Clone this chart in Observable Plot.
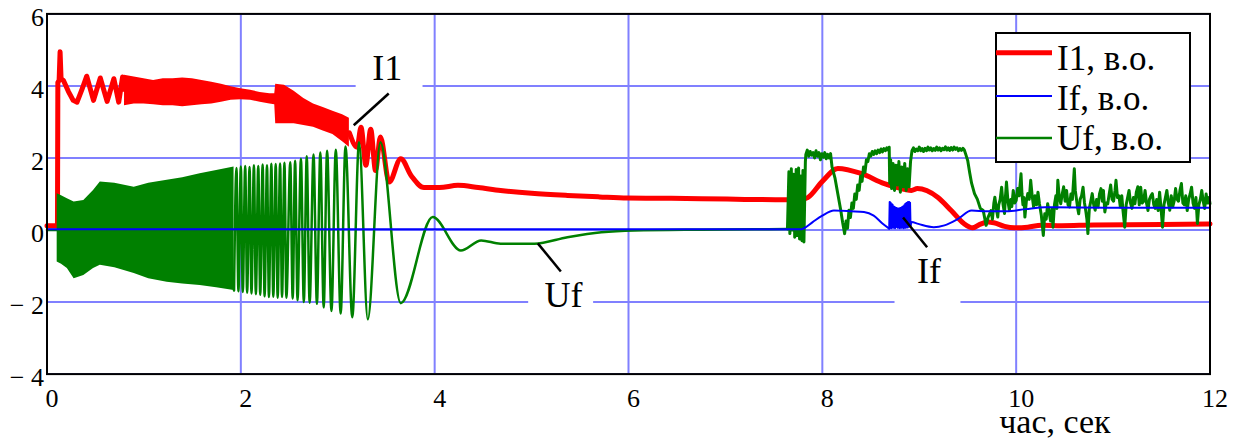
<!DOCTYPE html>
<html><head><meta charset="utf-8">
<script src="https://cdn.jsdelivr.net/npm/d3@7"></script>
<script src="https://cdn.jsdelivr.net/npm/@observablehq/plot@0.6"></script>
<style>
body{margin:0;background:#fff;}
#wrap{position:relative;width:1237px;height:439px;}
#legend{position:absolute;left:995px;top:32px;}
</style>
</head><body><div id="wrap"></div>
<script>
// ---- ticks & labels ----
const xTicks = [0, 2, 4, 6, 8, 10, 12];
const yTicks = [6, 4, 2, 0, -2, -4];
const yTickLabels = ["6", "4", "2", "0", "\u2212 2", "\u2212 4"];
const xTitle = "час, сек";
const seriesNames = ["I1, в.о.", "If, в.о.", "Uf, в.о."];
const seriesColors = ["#ff0000", "#0000ff", "#008000"];

// ---- I1 (red) ----
const i1Start = [[0,0.12],[0.108,0.12],[0.112,4.10],[0.125,4.15],[0.135,4.95],[0.145,4.20],[0.17,4.15],[0.22,3.85],[0.27,3.60],[0.31,3.55],[0.36,3.90],[0.41,4.27],[0.48,3.60],[0.55,4.22],[0.62,3.57],[0.69,4.20],[0.74,3.55],[0.78,4.25],[0.80,3.90]];
const i1BandT  = [0.80,0.90,1.00,1.10,1.20,1.30,1.40,1.50,1.60,1.70,1.80,1.90,2.00,2.10,2.20,2.30,2.35,2.36,2.45,2.55,2.65,2.75,2.85,2.95,3.05,3.12];
const i1BandLo = [3.45,3.50,3.50,3.48,3.45,3.45,3.42,3.45,3.48,3.50,3.55,3.60,3.62,3.60,3.55,3.50,3.48,2.95,2.95,2.95,2.90,2.85,2.75,2.65,2.45,2.30];
const i1BandHi = [4.30,4.25,4.20,4.15,4.20,4.20,4.22,4.20,4.15,4.10,4.05,3.98,3.92,3.88,3.82,3.78,3.78,4.05,4.02,3.85,3.65,3.50,3.40,3.30,3.20,3.10];
const i1End = [[3.12,2.70],[3.20,2.30],[3.24,2.85],[3.29,1.80],[3.34,2.80],[3.39,1.65],[3.44,2.58],[3.53,1.33],[3.65,1.98],[3.76,1.50],[3.89,1.18],[4.05,1.18],[4.24,1.24],[4.45,1.18],[4.68,1.10],[5.00,1.02],[5.37,0.96],[5.70,0.92],[5.99,0.89],[6.40,0.88],[6.75,0.87],[7.20,0.85],[7.60,0.84],[7.78,0.85],[7.85,0.90],[8.00,1.35],[8.16,1.71],[8.40,1.57],[8.64,1.29],[8.75,1.20],[8.92,1.10],[8.98,1.15],[9.19,0.91],[9.33,0.54],[9.46,0.18],[9.55,0.06],[9.62,0.15],[9.71,0.22],[9.77,0.20],[9.88,0.10],[9.98,0.06],[10.12,0.08],[10.26,0.13],[10.47,0.12],[10.80,0.14],[11.50,0.15],[12.00,0.17]];

// ---- If (blue) ----
const ifBefore = [[0,0.02],[7.78,0.02],[7.81,0.05],[7.90,0.22],[8.00,0.40],[8.12,0.54],[8.30,0.52],[8.43,0.50],[8.53,0.40],[8.62,0.18],[8.69,0.04]];
const ifBurst = [[8.690,0.04],[8.695,0.78],[8.700,0.06],[8.705,0.76],[8.710,0.05],[8.715,0.72],[8.720,0.08],[8.725,0.70],[8.730,0.06],[8.735,0.66],[8.740,0.09],[8.745,0.64],[8.750,0.05],[8.755,0.62],[8.760,0.08],[8.765,0.61],[8.770,0.10],[8.775,0.60],[8.780,0.06],[8.785,0.60],[8.790,0.09],[8.795,0.60],[8.800,0.05],[8.805,0.61],[8.810,0.08],[8.815,0.62],[8.820,0.06],[8.825,0.64],[8.830,0.10],[8.835,0.66],[8.840,0.05],[8.845,0.69],[8.850,0.08],[8.855,0.72],[8.860,0.06],[8.865,0.74],[8.870,0.10],[8.875,0.76],[8.880,0.07],[8.885,0.78],[8.890,0.09],[8.895,0.78],[8.900,0.10],[8.905,0.76],[8.910,0.12]];
const ifAfter = [[8.91,0.12],[8.92,0.22],[8.99,0.17],[9.15,0.08],[9.26,0.13],[9.40,0.31],[9.54,0.54],[9.70,0.52],[9.90,0.52],[10.10,0.58],[10.30,0.63],[11.00,0.62],[12.00,0.62]];

// ---- Uf (green) ----
const ufStart = [[0,0.0],[0.105,0.0]];
const ufBandT  = [0.105,0.15,0.21,0.28,0.38,0.48,0.55,0.70,0.90,1.05,1.24,1.40,1.58,1.75,1.93];
const ufBandHi = [1.01,0.95,0.87,0.78,0.82,1.10,1.33,1.30,1.19,1.30,1.38,1.45,1.56,1.65,1.75];
const ufBandLo = [-0.89,-0.95,-1.07,-1.35,-1.26,-1.07,-0.98,-1.05,-1.21,-1.35,-1.45,-1.50,-1.54,-1.60,-1.68];
const ufSwing = [[1.93,-1.68],[1.955,1.72],[1.975,-1.70],[2.0,1.76],[2.02,-1.72],[2.045,1.78],[2.065,-1.74],[2.09,1.75],[2.11,-1.76],[2.135,1.80],[2.155,-1.78],[2.18,1.78],[2.20,-1.80],[2.225,1.82],[2.245,-1.84],[2.27,1.80],[2.29,-1.86],[2.315,1.84],[2.335,-1.85],[2.36,1.83],[2.38,-1.88],[2.405,1.85],[2.425,-1.86],[2.45,1.87],[2.47,-1.88],[2.51,1.88],[2.535,-1.90],[2.56,1.92],[2.585,-1.95],[2.62,1.98],[2.65,-2.00],[2.68,2.05],[2.71,-2.02],[2.75,2.10],[2.785,-2.05],[2.82,2.15],[2.855,-2.15],[2.89,2.20],[2.935,-2.25],[2.98,2.23],[3.03,-2.32],[3.08,2.32],[3.15,-2.42],[3.22,2.44],[3.31,-2.48],[3.44,2.44],[3.65,-2.03],[3.98,0.36],[4.27,-0.57],[4.48,-0.29],[4.68,-0.38],[5.03,-0.38],[5.37,-0.20],[5.72,-0.06],[6.06,-0.01],[6.75,0.01],[7.30,0.02],[7.64,0.03]];
const ufNoisy = [[7.64,0.03],[7.655,1.62],[7.665,-0.10],[7.675,1.2],[7.68,1.70],[7.69,0.00],[7.70,0.9],[7.705,1.55],[7.715,-0.20],[7.725,1.1],[7.73,1.68],[7.74,-0.15],[7.75,0.8],[7.755,1.72],[7.765,-0.25],[7.775,1.3],[7.78,1.50],[7.79,-0.30],[7.80,1.65],[7.81,-0.33],[7.825,1.9],[7.83,2.10],[7.845,2.22],[7.86,2.05],[7.875,2.18],[7.89,2.08],[7.905,2.15],[7.92,2.0],[7.935,2.2],[7.95,2.05],[7.965,2.15],[7.98,1.95],[7.995,2.12],[8.01,2.02],[8.025,2.15],[8.04,1.98],[8.055,2.1],[8.07,2.0],[8.085,2.12],[8.10,1.75],[8.13,1.45],[8.16,1.0],[8.19,0.55],[8.21,0.2],[8.23,-0.10],[8.245,0.25],[8.26,0.05],[8.275,0.55],[8.29,0.35],[8.305,0.75],[8.32,0.6],[8.335,1.0],[8.35,0.85],[8.365,1.25],[8.38,1.1],[8.395,1.5],[8.41,1.35],[8.425,1.75],[8.44,1.6],[8.455,1.95],[8.47,1.9],[8.485,2.12],[8.50,2.05],[8.515,2.18],[8.53,2.1],[8.545,2.2],[8.56,2.12],[8.575,2.22],[8.59,2.15],[8.605,2.25],[8.62,2.17],[8.635,2.26],[8.65,2.2],[8.665,2.28],[8.68,2.22],[8.69,2.3],
 [8.695,1.30],[8.705,1.95],[8.715,1.15],[8.73,1.85],[8.745,1.10],[8.76,1.80],[8.775,1.25],[8.79,1.90],[8.805,1.05],[8.82,1.75],[8.835,1.20],[8.85,1.85],[8.865,1.10],[8.88,1.70],[8.895,1.20],[8.91,1.90],
 [8.925,2.20],[8.94,2.28],[8.955,2.18],[8.97,2.25],[8.985,2.2],[9.0,2.3],[9.015,2.2],[9.03,2.26],[9.045,2.18],[9.06,2.27],[9.075,2.2],[9.09,2.3],[9.105,2.22],[9.12,2.28],[9.135,2.2],[9.15,2.26],[9.165,2.21],[9.18,2.3],[9.195,2.22],[9.21,2.28],[9.225,2.2],[9.24,2.27],[9.255,2.23],[9.27,2.31],[9.285,2.22],[9.30,2.28],[9.315,2.21],[9.33,2.29],[9.345,2.22],[9.36,2.3],[9.375,2.24],[9.39,2.28],[9.405,2.2],[9.42,2.26],[9.435,2.21],[9.45,2.27],[9.465,2.22],[9.48,2.1],[9.50,1.93],[9.52,1.6],[9.54,1.3],[9.57,1.01],[9.60,0.85],[9.63,0.6],[9.66,0.54],[9.69,0.13],
 [9.71,0.35],[9.74,0.54],[9.755,0.3],[9.77,0.75],[9.78,0.91],[9.795,0.6],[9.81,0.36],[9.82,0.7],[9.835,0.85],[9.85,1.19],[9.865,0.7],[9.88,0.46],[9.89,0.95],[9.90,1.33],[9.915,0.8],[9.93,0.54],[9.945,0.85],[9.955,0.65],[9.97,1.10],[9.985,0.75],[10.0,0.82],[10.015,1.15],[10.03,0.95],[10.05,1.56],[10.06,1.0],[10.07,0.70],[10.08,0.9],[10.09,0.36],[10.105,0.8],[10.12,1.01],[10.135,0.85],[10.15,1.38],[10.165,0.95],[10.18,0.64],[10.195,0.95],[10.21,0.7],[10.225,1.05],[10.24,0.73],[10.26,0.4],[10.28,-0.15],[10.295,0.45],[10.31,0.30],[10.325,0.73],[10.34,0.50],[10.355,0.25],[10.37,0.6],[10.38,0.08],[10.395,0.7],[10.41,0.95],[10.42,0.6],[10.43,1.38],[10.445,0.9],[10.46,0.73],[10.475,1.0],[10.49,1.2],[10.505,0.8],[10.52,1.10],[10.535,0.7],[10.55,0.64],[10.565,1.0],[10.58,0.85],[10.60,1.70],[10.61,1.1],[10.62,0.90],[10.635,0.6],[10.645,0.45],[10.66,0.85],[10.675,0.95],[10.69,1.19],[10.705,0.75],[10.72,0.50],[10.73,0.3],[10.74,-0.10],[10.755,0.6],[10.77,0.80],[10.785,1.01],[10.80,0.7],[10.815,0.55],[10.83,0.85],[10.845,0.64],[10.86,1.0],[10.875,1.15],[10.89,0.8],[10.90,1.10],[10.915,0.5],[10.93,0.75],[10.945,0.73],[10.96,1.0],[10.975,1.25],[10.99,0.85],[11.005,0.80],[11.02,1.1],[11.03,1.38],[11.045,0.9],[11.06,0.95],[11.075,0.64],[11.09,0.95],[11.10,0.6],[11.12,0.08],[11.135,0.7],[11.15,0.90],[11.165,1.10],[11.18,0.75],[11.195,0.60],[11.21,0.9],[11.225,0.73],[11.24,1.05],[11.255,1.20],[11.27,0.70],[11.285,1.19],[11.30,0.75],[11.315,0.80],[11.33,1.10],[11.345,0.75],[11.36,0.54],[11.375,0.85],[11.39,0.95],[11.405,1.01],[11.42,0.7],[11.435,0.60],[11.45,0.85],[11.465,0.54],[11.48,1.05],[11.495,0.6],[11.51,0.08],[11.525,0.7],[11.54,0.90],[11.555,1.10],[11.57,0.75],[11.585,0.55],[11.60,0.95],[11.615,0.64],[11.63,0.8],[11.645,1.15],[11.66,0.85],[11.675,0.80],[11.69,1.1],[11.705,1.29],[11.72,0.75],[11.735,0.70],[11.75,0.95],[11.765,0.54],[11.78,0.85],[11.795,1.00],[11.81,1.19],[11.825,0.75],[11.84,0.60],[11.855,0.9],[11.87,0.18],[11.885,0.7],[11.90,0.85],[11.915,1.10],[11.93,0.8],[11.945,0.60],[11.96,1.0],[11.975,0.75],[11.99,0.9],[12.0,0.73]];

// ---- annotations ----
const labelTexts = ["I1", "Uf", "If"];
const labelT = [3.51, 5.33, 9.10];
const labelV = [4.16, -2.15, -1.48];
const leaderT1 = [3.526, 5.064, 8.833];
const leaderV1 = [3.79, -0.37, 0.35];
const leaderT2 = [3.165, 5.302, 9.081];
const leaderV2 = [2.91, -1.15, -0.48];
const maskT1 = [3.19, 4.97, 8.75];
const maskT2 = [3.88, 5.64, 9.43];
const maskV1 = [3.60, -2.50, -2.30];
const maskV2 = [4.80, -1.10, -0.90];

// ---- build tables ----
const pairs = (P) => P.map(([t, v]) => ({t, v}));
const band = (T, L, H) => T.map((t, i) => ({t, lo: L[i], hi: H[i]}));
const labels = labelTexts.map((s, i) => ({s, t: labelT[i], v: labelV[i]}));
const leaders = leaderT1.map((t, i) => ({t1: t, v1: leaderV1[i], t2: leaderT2[i], v2: leaderV2[i]}));
const masks = maskT1.map((t, i) => ({t1: t, t2: maskT2[i], v1: maskV1[i], v2: maskV2[i]}));
const yLab = yTicks.map((v, i) => ({v, s: yTickLabels[i]}));

const serif = '"Liberation Serif", "Times New Roman", serif';
const gridColor = "#8080ff";

const chart = Plot.plot({
  width: 1237, height: 439,
  marginLeft: 46.5, marginRight: 27.5, marginTop: 13.4, marginBottom: 65.4,
  x: {domain: [0, 12], axis: null},
  y: {domain: [-4, 6], axis: null},
  style: {fontFamily: serif, background: "white", overflow: "visible", color: "black"},
  marks: [
    Plot.gridX(xTicks, {stroke: gridColor, strokeOpacity: 1, strokeWidth: 2}),
    Plot.gridY(yTicks, {stroke: gridColor, strokeOpacity: 1, strokeWidth: 2}),
    Plot.rect(masks, {x1: "t1", x2: "t2", y1: "v1", y2: "v2", fill: "white"}),
    Plot.line(pairs(i1Start), {x: "t", y: "v", stroke: seriesColors[0], strokeWidth: 5}),
    Plot.areaY(band(i1BandT, i1BandLo, i1BandHi), {x: "t", y1: "lo", y2: "hi", fill: seriesColors[0]}),
    Plot.line(pairs(i1End), {x: "t", y: "v", stroke: seriesColors[0], strokeWidth: 5, curve: "monotone-x"}),
    Plot.line(pairs(ufStart), {x: "t", y: "v", stroke: seriesColors[2], strokeWidth: 2.5}),
    Plot.areaY(band(ufBandT, ufBandLo, ufBandHi), {x: "t", y1: "lo", y2: "hi", fill: seriesColors[2]}),
    Plot.line(pairs(ufSwing), {x: "t", y: "v", stroke: seriesColors[2], strokeWidth: 2.5, curve: "monotone-x"}),
    Plot.line(pairs(ufNoisy), {x: "t", y: "v", stroke: seriesColors[2], strokeWidth: 3}),
    Plot.line(pairs(ifBefore), {x: "t", y: "v", stroke: seriesColors[1], strokeWidth: 2, curve: "monotone-x"}),
    Plot.line(pairs(ifBurst), {x: "t", y: "v", stroke: seriesColors[1], strokeWidth: 2}),
    Plot.line(pairs(ifAfter), {x: "t", y: "v", stroke: seriesColors[1], strokeWidth: 2, curve: "monotone-x"}),
    Plot.link(leaders, {x1: "t1", y1: "v1", x2: "t2", y2: "v2", stroke: "black", strokeWidth: 2.5}),
    Plot.text(labels, {x: "t", y: "v", text: "s", fontSize: 36, lineAnchor: "bottom", textAnchor: "middle", fill: "black"}),
    Plot.text(xTicks, {x: d => d, frameAnchor: "bottom", text: d => String(d), dx: 5, dy: 33, lineAnchor: "bottom", fontSize: 26, fill: "black"}),
    Plot.text(yLab, {y: "v", frameAnchor: "left", text: "s", dx: -3, dy: 4, textAnchor: "end", lineAnchor: "middle", fontSize: 26, fill: "black"}),
    Plot.text([xTitle], {x: () => 10.4, frameAnchor: "bottom", text: d => d, dy: 59, lineAnchor: "bottom", fontSize: 34, fill: "black"}),
    Plot.frame({stroke: "black", strokeWidth: 2})
  ]
});
const wrap = document.getElementById("wrap");
wrap.appendChild(chart);

// ---- legend ----
const lg = d3.select(wrap).append("svg").attr("id", "legend").attr("width", 197).attr("height", 132);
lg.append("rect").attr("x", 1).attr("y", 1).attr("width", 194).attr("height", 129).attr("fill", "white").attr("stroke", "black").attr("stroke-width", 2);
const lineY = [20.7, 64, 106];
const textY = [38, 78, 118];
const lineW = [5, 2, 2.5];
seriesNames.forEach((name, i) => {
  lg.append("line").attr("x1", 1).attr("x2", 57).attr("y1", lineY[i]).attr("y2", lineY[i])
    .attr("stroke", seriesColors[i]).attr("stroke-width", lineW[i]);
  lg.append("text").attr("x", 62).attr("y", textY[i]).attr("font-family", serif).attr("font-size", 35)
    .attr("fill", "black").text(name);
});
</script></body></html>
